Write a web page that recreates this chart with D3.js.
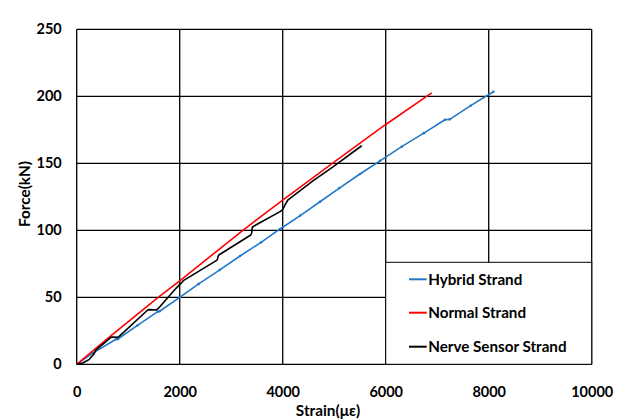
<!DOCTYPE html>
<html>
<head>
<meta charset="utf-8">
<script src="https://cdn.jsdelivr.net/npm/d3@7"></script>
<style>
  body { margin: 0; background: #fff; }
  text { font-family: Lato, "Noto Sans", sans-serif; font-weight: bold; fill: #000; }
</style>
</head>
<body>
<svg id="chart" width="626" height="420"></svg>
<script>
// Force vs strain, three strands
const xTicks = [0, 2000, 4000, 6000, 8000, 10000];
const yTicks = [0, 50, 100, 150, 200, 250];

const hybridStrain = [0, 311, 763, 800, 1180, 1573, 1610, 2000, 2369, 2780, 3171, 3580, 3950, 4340, 4724, 5100, 5500, 5889, 6311, 6740, 7151, 7243, 7650, 8090];
const hybridForce  = [0, 8.3, 18.7, 18.9, 29.0, 39.3, 39.6, 50, 60, 70.5, 80.8, 91, 101, 111, 121.3, 131.5, 142, 151.8, 162.4, 172.5, 182.5, 182.8, 193, 203.4];

const normalStrain = [0, 650, 1600, 2000, 3270, 4000, 4983, 5987, 6893];
const normalForce  = [0, 20.8, 50.5, 62.3, 101.3, 122.6, 150.5, 178.6, 202.5];

const nerveStrain = [0, 120, 245, 330, 375, 400, 666, 690, 796, 830, 1379, 1410, 1540, 1580, 1928, 2010, 2070, 2718, 2735, 2745, 2760, 3380, 3398, 3405, 3420, 3948, 4000, 4045, 4100, 4142, 4594, 4983, 5534];
const nerveForce  = [0, 1, 3.7, 7.5, 10.7, 11.5, 20.1, 20.4, 20.1, 21, 40.5, 40.8, 40.5, 41.5, 56.7, 59.8, 62.4, 77.6, 78.5, 80.5, 81.6, 96.5, 98, 101.5, 102.7, 113.9, 115.5, 118.9, 122.6, 123.9, 137, 147.5, 163.1];

const seriesNames = ["Hybrid Strand", "Normal Strand", "Nerve Sensor Strand"];
const seriesColors = ["#2079c7", "#ff0000", "#000000"];

const margin = {left: 76.7, right: 34.3, top: 29.3, bottom: 55.7};
const width = 626, height = 420;
const drawWidth = width - margin.left - margin.right;
const drawHeight = height - margin.top - margin.bottom;

const svg = d3.select("#chart");
const g = svg.append("g").attr("transform", `translate(${margin.left},${margin.top})`);

const xScale = d3.scaleLinear().domain([0, 10000]).range([0, drawWidth]);
const yScale = d3.scaleLinear().domain([0, 250]).range([drawHeight, 0]);

// grid
g.selectAll(".vgrid").data(xTicks).enter().append("line")
  .attr("x1", d => xScale(d)).attr("x2", d => xScale(d))
  .attr("y1", 0).attr("y2", drawHeight)
  .attr("stroke", "#000").attr("stroke-width", 1.3);
g.selectAll(".hgrid").data(yTicks).enter().append("line")
  .attr("x1", 0).attr("x2", drawWidth)
  .attr("y1", d => yScale(d)).attr("y2", d => yScale(d))
  .attr("stroke", "#000").attr("stroke-width", 1.3);

// axes (labels only)
const xAxis = g.append("g").attr("transform", `translate(0,${drawHeight})`)
  .call(d3.axisBottom(xScale).tickValues(xTicks).tickSize(0).tickPadding(22).tickFormat(d3.format("d")));
const yAxis = g.append("g")
  .call(d3.axisLeft(yScale).tickValues(yTicks).tickSize(0).tickPadding(15).tickFormat(d3.format("d")));
[xAxis, yAxis].forEach(a => {
  a.select(".domain").remove();
  a.selectAll("text").style("font-size", "14.5px").style("font-family", "Lato, 'Noto Sans', sans-serif").style("font-weight", "bold");
});

// lines
const series = [
  {x: hybridStrain, y: hybridForce},
  {x: normalStrain, y: normalForce},
  {x: nerveStrain, y: nerveForce}
];
const line = d3.line()
  .x(d => xScale(d[0]))
  .y(d => yScale(d[1]));

series.forEach((s, i) => {
  const pts = s.x.map((v, j) => [v, s.y[j]]);
  g.append("path").datum(pts)
    .attr("fill", "none")
    .attr("stroke", seriesColors[i])
    .attr("stroke-width", 1.6)
    .attr("stroke-linejoin", "round")
    .attr("d", line);
  if (i === 0) {
    g.selectAll(".hmark").data(pts.filter((d, j) => j > 0)).enter().append("circle")
      .attr("cx", d => xScale(d[0])).attr("cy", d => yScale(d[1]))
      .attr("r", 1.3).attr("fill", seriesColors[0]);
  }
});

// legend
const legend = svg.append("g").attr("transform", "translate(385.7,262.3)");
legend.append("rect").attr("width", 206).attr("height", 102)
  .attr("fill", "#fff").attr("stroke", "#000").attr("stroke-width", 1);
const legendY = [17, 50.4, 84.4];
seriesNames.forEach((name, i) => {
  legend.append("line").attr("x1", 23.3).attr("x2", 41)
    .attr("y1", legendY[i]).attr("y2", legendY[i])
    .attr("stroke", seriesColors[i]).attr("stroke-width", 2);
  legend.append("text").attr("x", 42.5).attr("y", legendY[i]).attr("dy", "0.35em")
    .style("font-size", "15.2px").text(name);
});

// axis titles
svg.append("text").attr("x", 328).attr("y", 416).attr("text-anchor", "middle")
  .style("font-size", "15.3px").text("Strain(με)");
svg.append("text").attr("transform", "translate(30,194) rotate(-90)")
  .attr("text-anchor", "middle").style("font-size", "15.3px").text("Force(kN)");
</script>
</body>
</html>
